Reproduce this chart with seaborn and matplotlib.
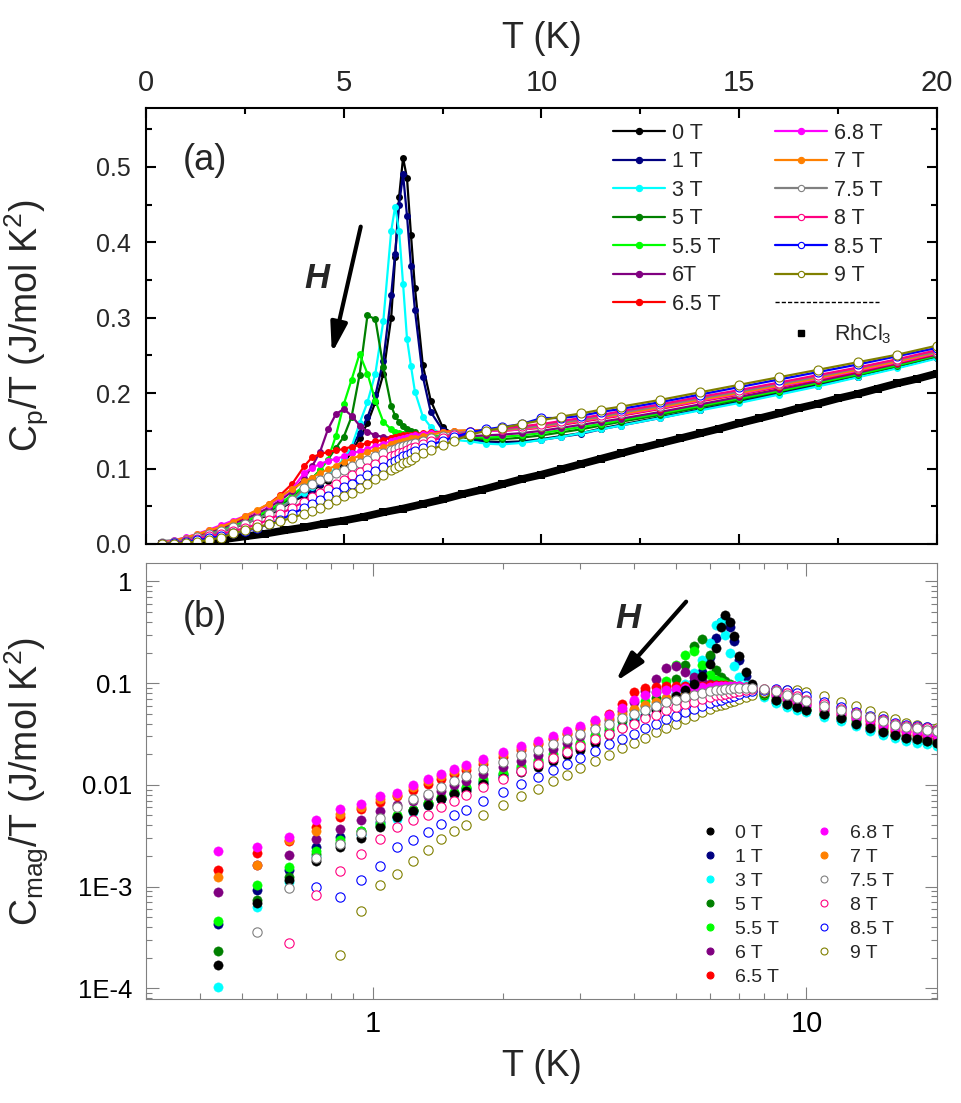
import numpy as np
import matplotlib
matplotlib.use('Agg')
import matplotlib.pyplot as plt
import seaborn as sns
from matplotlib.lines import Line2D
from matplotlib.legend_handler import HandlerLine2D
from matplotlib.ticker import MultipleLocator, FormatStrFormatter, LogLocator, NullFormatter

nan = np.nan

# ---- panel (a): Cp/T vs T ----
T_top = [0.4, 0.7, 1.0, 1.3, 1.6, 1.9, 2.2, 2.5, 2.8, 3.1, 3.4, 3.7,
         4.0, 4.2, 4.4, 4.6, 4.8, 5.0, 5.2, 5.4, 5.6, 5.8, 6.0,
         6.2, 6.3, 6.4, 6.5, 6.6, 6.7, 6.8, 7.0, 7.2, 7.5, 7.8,
         8.2, 8.6, 9.0, 9.5, 10, 10.5, 11, 11.5, 12, 13, 14, 15, 16, 17, 18, 19, 20]

cp_0T = [0.0005, 0.0023, 0.005, 0.0085, 0.0125, 0.017, 0.021, 0.027, 0.033, 0.038, 0.047, 0.056,
         0.064, 0.070, 0.078, 0.084, 0.095, 0.107, 0.122, 0.140, 0.160, 0.188, 0.225,
         0.300, 0.380, 0.460, 0.512, 0.485, 0.410, 0.340, 0.237, 0.190, 0.155, 0.145,
         0.140, 0.136, 0.135, 0.136, 0.139, 0.143, 0.147, 0.153, 0.158, 0.168, 0.178, 0.189, 0.200, 0.211, 0.222, 0.234, 0.247]
cp_1T = [0.0007, 0.0026, 0.0055, 0.009, 0.013, 0.0175, 0.022, 0.028, 0.034, 0.040, 0.048, 0.057,
         0.066, 0.072, 0.080, 0.088, 0.099, 0.112, 0.128, 0.147, 0.168, 0.197, 0.243,
         0.330, 0.385, 0.450, 0.490, 0.435, 0.368, 0.310, 0.222, 0.175, 0.151, 0.146,
         0.139, 0.135, 0.134, 0.135, 0.138, 0.142, 0.146, 0.152, 0.157, 0.167, 0.178, 0.188, 0.199, 0.210, 0.222, 0.234, 0.247]
cp_3T = [0.0004, 0.0023, 0.0052, 0.0088, 0.013, 0.0175, 0.022, 0.028, 0.034, 0.041, 0.049, 0.059,
         0.068, 0.075, 0.083, 0.091, 0.101, 0.113, 0.129, 0.160, 0.188, 0.226, 0.295,
         0.415, 0.447, 0.415, 0.345, 0.272, 0.236, 0.202, 0.169, 0.155, 0.144, 0.138,
         0.136, 0.133, 0.132, 0.134, 0.138, 0.142, 0.147, 0.152, 0.157, 0.167, 0.177, 0.187, 0.198, 0.209, 0.221, 0.233, 0.246]
cp_5T = [0.0005, 0.0025, 0.0055, 0.0092, 0.0135, 0.018, 0.023, 0.029, 0.036, 0.043, 0.052, 0.062,
         0.077, 0.087, 0.098, 0.112, 0.127, 0.142, 0.169, 0.224, 0.303, 0.298, 0.235,
         0.183, 0.170, 0.162, 0.157, 0.153, 0.150, 0.148, 0.145, 0.144, 0.143, 0.142,
         0.141, 0.139, 0.139, 0.141, 0.144, 0.148, 0.152, 0.157, 0.162, 0.171, 0.181, 0.191, 0.202, 0.213, 0.224, 0.236, 0.249]
cp_55T = [0.0006, 0.0027, 0.0057, 0.0095, 0.014, 0.019, 0.024, 0.030, 0.037, 0.045, 0.054, 0.065,
          0.077, 0.086, 0.098, 0.112, 0.143, 0.185, 0.218, 0.252, 0.226, 0.190, 0.162,
          0.152, 0.149, 0.147, 0.146, 0.145, 0.144, 0.144, 0.143, 0.143, 0.143, 0.143,
          0.142, 0.141, 0.142, 0.144, 0.147, 0.151, 0.155, 0.159, 0.164, 0.173, 0.183, 0.193, 0.203, 0.214, 0.225, 0.237, 0.250]
cp_6T = [0.0012, 0.0035, 0.0070, 0.011, 0.016, 0.021, 0.027, 0.033, 0.040, 0.048, 0.058, 0.070,
         0.087, 0.103, 0.122, 0.152, 0.172, 0.179, 0.170, 0.157, 0.149, 0.144, 0.142,
         0.141, 0.140, 0.140, 0.140, 0.140, 0.140, 0.140, 0.141, 0.141, 0.142, 0.143,
         0.143, 0.144, 0.145, 0.147, 0.150, 0.154, 0.158, 0.162, 0.166, 0.175, 0.185, 0.195, 0.205, 0.216, 0.227, 0.239, 0.251]
cp_65T = [0.0016, 0.0042, 0.0078, 0.012, 0.0175, 0.023, 0.029, 0.036, 0.044, 0.053, 0.065, 0.080,
          0.103, 0.115, 0.119, 0.122, 0.124, 0.126, 0.129, 0.131, 0.134, 0.136, 0.138,
          0.141, 0.142, 0.143, 0.144, 0.145, 0.145, 0.146, 0.147, 0.148, 0.149, 0.150,
          0.150, 0.150, 0.150, 0.152, 0.154, 0.158, 0.162, 0.166, 0.170, 0.179, 0.189, 0.198, 0.208, 0.218, 0.229, 0.240, 0.252]
cp_68T = [0.0024, 0.0048, 0.0088, 0.0135, 0.019, 0.025, 0.031, 0.037, 0.044, 0.052, 0.061, 0.073,
          0.094, 0.101, 0.106, 0.110, 0.113, 0.116, 0.120, 0.123, 0.126, 0.130, 0.133,
          0.136, 0.138, 0.139, 0.141, 0.142, 0.143, 0.144, 0.146, 0.147, 0.148, 0.149,
          0.150, 0.150, 0.150, 0.152, 0.155, 0.159, 0.163, 0.167, 0.171, 0.180, 0.190, 0.199, 0.209, 0.219, 0.230, 0.241, 0.253]
cp_7T = [0.0015, 0.0045, 0.0085, 0.013, 0.018, 0.023, 0.029, 0.037, 0.045, 0.053, 0.063, 0.073,
         0.083, 0.088, 0.094, 0.099, 0.104, 0.109, 0.113, 0.117, 0.122, 0.125, 0.129,
         0.132, 0.134, 0.135, 0.137, 0.138, 0.140, 0.141, 0.143, 0.145, 0.148, 0.150,
         0.151, 0.151, 0.151, 0.153, 0.156, 0.160, 0.164, 0.168, 0.172, 0.181, 0.191, 0.200, 0.210, 0.220, 0.231, 0.242, 0.254]
cp_75T = [0.0008, 0.0025, 0.0055, 0.009, 0.013, 0.017, 0.022, 0.027, 0.033, 0.040, 0.048, 0.058,
          0.074, 0.080, 0.085, 0.089, 0.094, 0.098, 0.103, 0.107, 0.112, 0.116, 0.120,
          0.124, 0.126, 0.128, 0.130, 0.131, 0.133, 0.134, 0.137, 0.140, 0.143, 0.146,
          0.149, 0.151, 0.152, 0.154, 0.157, 0.161, 0.165, 0.169, 0.174, 0.183, 0.193, 0.202, 0.212, 0.222, 0.233, 0.244, 0.255]
cp_8T = [0.0004, 0.0012, 0.0038, 0.0068, 0.010, 0.0135, 0.017, 0.021, 0.026, 0.032, 0.040, 0.048,
         0.056, 0.062, 0.067, 0.073, 0.080, 0.085, 0.091, 0.096, 0.101, 0.106, 0.111,
         0.116, 0.118, 0.120, 0.122, 0.125, 0.127, 0.129, 0.133, 0.137, 0.141, 0.144,
         0.148, 0.151, 0.153, 0.156, 0.159, 0.163, 0.167, 0.171, 0.176, 0.185, 0.195, 0.204, 0.214, 0.224, 0.234, 0.245, 0.257]
cp_85T = [0.0003, 0.0009, 0.0025, 0.0048, 0.0075, 0.0105, 0.014, 0.017, 0.021, 0.026, 0.032, 0.040,
          0.048, 0.053, 0.058, 0.063, 0.069, 0.075, 0.080, 0.086, 0.091, 0.097, 0.102,
          0.108, 0.110, 0.113, 0.116, 0.118, 0.120, 0.123, 0.127, 0.131, 0.137, 0.142,
          0.148, 0.152, 0.155, 0.159, 0.167, 0.167, 0.170, 0.175, 0.179, 0.188, 0.198, 0.208, 0.218, 0.228, 0.238, 0.249, 0.260]
cp_9T = [0.0002, 0.0006, 0.0015, 0.0032, 0.0055, 0.0085, 0.014, 0.018, 0.022, 0.026, 0.030, 0.035,
         0.040, 0.044, 0.048, 0.053, 0.058, 0.063, 0.068, 0.074, 0.080, 0.086, 0.092,
         0.098, 0.101, 0.104, 0.107, 0.109, 0.112, 0.115, 0.120, 0.125, 0.131, 0.137,
         0.145, 0.150, 0.154, 0.159, 0.164, 0.169, 0.173, 0.178, 0.182, 0.191, 0.201, 0.211, 0.221, 0.231, 0.241, 0.251, 0.263]

# phonon reference
T_rh = [0.4, 1.0, 1.5, 2.0, 2.5, 3.0, 3.5, 4.0, 4.5, 5.0, 5.5, 6.0, 6.5, 7.0, 7.5, 8.0, 8.5, 9.0, 9.5, 10.0,
        10.5, 11.0, 11.5, 12.0, 12.5, 13.0, 13.5, 14.0, 14.5, 15.0, 15.5, 16.0, 16.5, 17.0, 17.5, 18.0, 18.5, 19.0, 19.5, 20.0]
cp_rh = [0.0003, 0.0015, 0.0035, 0.0065, 0.010, 0.0135, 0.018, 0.022, 0.027, 0.031, 0.036, 0.042, 0.047, 0.053, 0.059,
         0.066, 0.072, 0.079, 0.086, 0.092, 0.099, 0.106, 0.113, 0.120, 0.127, 0.1335, 0.140, 0.1465, 0.153, 0.160,
         0.1665, 0.173, 0.180, 0.186, 0.193, 0.199, 0.206, 0.213, 0.219, 0.226]

# ---- panel (b): Cmag/T vs T ----
T_bot = [0.44, 0.54, 0.64, 0.74, 0.84, 0.94, 1.04, 1.14, 1.24, 1.34, 1.44, 1.54, 1.64,
         1.8, 2.0, 2.2, 2.4, 2.6, 2.8, 3.0,
         3.25, 3.5, 3.75, 4.0, 4.25, 4.5, 4.75, 5.0,
         5.25, 5.5, 5.75, 6.0, 6.2, 6.35, 6.5, 6.65, 6.8, 7.0,
         7.25, 7.5, 8.0, 8.5, 9.0, 9.5, 10,
         11, 12, 13, 14, 15, 16, 17, 18, 19, 20]

cm_0T = [1.70e-4, 6.85e-4, 1.16e-3, 1.80e-3, 2.44e-3, 3.01e-3, 3.84e-3, 4.8e-3, 5.5e-3, 6.4e-3, 7.2e-3, 8.15e-3, 8.8e-3,
         0.0102, 0.0118, 0.0133, 0.0150, 0.0172, 0.0195, 0.0220,
         0.026, 0.031, 0.036, 0.041, 0.047, 0.055, 0.065, 0.075,
         0.085, 0.098, 0.118, 0.155, 0.22, 0.36, 0.47, 0.40, 0.29, 0.185,
         0.128, 0.098, 0.080, 0.068, 0.062, 0.058, 0.055,
         0.050, 0.045, 0.040, 0.036, 0.033, 0.031, 0.029, 0.028, 0.027, 0.026]
cm_1T = [4.3e-4, 9.3e-4, 1.46e-3, 2.44e-3, 3.1e-3, 3.3e-3, 4.3e-3, 4.8e-3, 5.6e-3, 6.5e-3, 7.3e-3, 8.3e-3, 9.2e-3,
         0.0105, 0.0122, 0.0138, 0.0156, 0.0178, 0.020, 0.023,
         0.027, 0.032, 0.037, 0.043, 0.049, 0.057, 0.067, 0.078,
         0.090, 0.105, 0.128, 0.18, 0.28, 0.40, 0.44, 0.36, 0.26, 0.17,
         0.118, 0.093, 0.077, 0.066, 0.060, 0.057, 0.054,
         0.049, 0.043, 0.039, 0.035, 0.032, 0.030, 0.028, 0.027, 0.026, 0.025]
cm_3T = [1.04e-4, 6.27e-4, 1.12e-3, 2.02e-3, 2.63e-3, 3.2e-3, 4.1e-3, 4.6e-3, 5.4e-3, 6.4e-3, 7.3e-3, 8.2e-3, 9.1e-3,
         0.0106, 0.0124, 0.0141, 0.016, 0.0183, 0.021, 0.024,
         0.028, 0.033, 0.039, 0.046, 0.053, 0.062, 0.072, 0.083,
         0.098, 0.125, 0.17, 0.25, 0.37, 0.40, 0.30, 0.20, 0.148, 0.115,
         0.096, 0.085, 0.073, 0.064, 0.058, 0.055, 0.052,
         0.047, 0.042, 0.038, 0.034, 0.031, 0.029, 0.027, 0.026, 0.025, 0.024]
cm_5T = [2.31e-4, 7.3e-4, 1.24e-3, 2.1e-3, 2.7e-3, 3.56e-3, 3.98e-3, 4.9e-3, 5.6e-3, 6.6e-3, 7.4e-3, 8.4e-3, 9.4e-3,
         0.011, 0.0128, 0.0147, 0.0168, 0.019, 0.022, 0.025,
         0.030, 0.035, 0.042, 0.050, 0.060, 0.072, 0.088, 0.110,
         0.15, 0.23, 0.27, 0.19, 0.135, 0.115, 0.105, 0.098, 0.093, 0.090,
         0.087, 0.084, 0.077, 0.069, 0.063, 0.058, 0.055,
         0.050, 0.045, 0.041, 0.037, 0.034, 0.031, 0.029, 0.028, 0.027, 0.026]
cm_55T = [4.57e-4, 1.04e-3, 1.55e-3, 2.26e-3, 2.85e-3, 3.56e-3, 4.1e-3, 5.0e-3, 5.7e-3, 6.7e-3, 7.6e-3, 8.6e-3, 9.6e-3,
          0.0113, 0.0132, 0.0152, 0.0175, 0.020, 0.023, 0.026,
          0.031, 0.037, 0.045, 0.055, 0.067, 0.082, 0.105, 0.150,
          0.19, 0.205, 0.15, 0.12, 0.108, 0.102, 0.098, 0.095, 0.093, 0.091,
          0.088, 0.085, 0.078, 0.071, 0.065, 0.060, 0.057,
          0.051, 0.046, 0.042, 0.038, 0.035, 0.032, 0.030, 0.029, 0.028, 0.027]
cm_6T = [8.8e-4, 1.62e-3, 2.06e-3, 2.94e-3, 3.69e-3, 4.53e-3, 5.5e-3, 6.27e-3, 7.0e-3, 7.8e-3, 8.8e-3, 1.0e-2, 0.011,
         0.0128, 0.0150, 0.0172, 0.0197, 0.0225, 0.026, 0.030,
         0.036, 0.043, 0.053, 0.066, 0.084, 0.110, 0.140, 0.147,
         0.130, 0.114, 0.104, 0.098, 0.095, 0.094, 0.093, 0.092, 0.091, 0.090,
         0.089, 0.087, 0.081, 0.074, 0.068, 0.063, 0.059,
         0.053, 0.048, 0.044, 0.040, 0.036, 0.033, 0.031, 0.030, 0.029, 0.028]
cm_65T = [1.47e-3, 2.14e-3, 2.83e-3, 3.84e-3, 4.81e-3, 5.8e-3, 6.76e-3, 7.8e-3, 9.0e-3, 0.0102, 0.0115, 0.0128, 0.0140,
          0.0162, 0.0190, 0.0220, 0.0250, 0.0285, 0.032, 0.036,
          0.042, 0.050, 0.062, 0.082, 0.090, 0.092, 0.093, 0.094,
          0.094, 0.094, 0.094, 0.095, 0.095, 0.095, 0.095, 0.094, 0.094, 0.093,
          0.092, 0.090, 0.085, 0.078, 0.071, 0.066, 0.062,
          0.056, 0.050, 0.046, 0.042, 0.038, 0.035, 0.033, 0.032, 0.031, 0.030]
cm_68T = [2.23e-3, 2.44e-3, 3.05e-3, 4.53e-3, 5.81e-3, 6.5e-3, 7.74e-3, 8.28e-3, 1.0e-2, 0.0113, 0.0128, 0.0144, 0.0157,
          0.0180, 0.0210, 0.0240, 0.0272, 0.0305, 0.034, 0.038,
          0.043, 0.049, 0.057, 0.068, 0.076, 0.081, 0.085, 0.087,
          0.089, 0.090, 0.091, 0.092, 0.093, 0.093, 0.093, 0.093, 0.093, 0.093,
          0.092, 0.090, 0.086, 0.079, 0.072, 0.067, 0.063,
          0.057, 0.051, 0.047, 0.043, 0.039, 0.036, 0.034, 0.033, 0.032, 0.031]
cm_7T = [1.24e-3, 1.62e-3, 2.9e-3, 3.56e-3, 5.2e-3, 6.0e-3, 7.3e-3, 8.0e-3, 9.5e-3, 0.0108, 0.0122, 0.0136, 0.0150,
         0.0172, 0.0200, 0.0228, 0.0258, 0.029, 0.0322, 0.0355,
         0.040, 0.045, 0.050, 0.056, 0.061, 0.066, 0.071, 0.075,
         0.079, 0.082, 0.085, 0.087, 0.088, 0.089, 0.090, 0.090, 0.091, 0.091,
         0.091, 0.090, 0.087, 0.080, 0.073, 0.068, 0.064,
         0.058, 0.052, 0.048, 0.044, 0.040, 0.037, 0.035, 0.034, 0.033, 0.032]
cm_75T = [nan, 3.55e-4, 9.6e-4, 1.9e-3, 2.63e-3, 3.4e-3, 4.7e-3, 6.0e-3, 7.2e-3, 8.2e-3, 9.5e-3, 0.011, 0.0122,
          0.0142, 0.0168, 0.0195, 0.0222, 0.0252, 0.0282, 0.0315,
          0.0355, 0.040, 0.045, 0.050, 0.055, 0.060, 0.065, 0.069,
          0.073, 0.077, 0.080, 0.083, 0.085, 0.086, 0.087, 0.088, 0.089, 0.090,
          0.090, 0.090, 0.088, 0.083, 0.077, 0.071, 0.067,
          0.060, 0.054, 0.050, 0.046, 0.042, 0.039, 0.037, 0.036, 0.035, 0.034]
cm_8T = [nan, nan, 2.77e-4, 8.3e-4, 1.42e-3, 2.07e-3, 2.94e-3, 3.84e-3, 4.5e-3, 5.07e-3, 6.0e-3, 7.0e-3, 7.9e-3,
         9.5e-3, 0.0115, 0.0137, 0.0160, 0.0185, 0.0212, 0.024,
         0.028, 0.032, 0.036, 0.040, 0.045, 0.049, 0.054, 0.058,
         0.062, 0.066, 0.070, 0.073, 0.076, 0.077, 0.079, 0.080, 0.082, 0.084,
         0.086, 0.087, 0.088, 0.086, 0.080, 0.074, 0.069,
         0.062, 0.056, 0.051, 0.047, 0.043, 0.040, 0.038, 0.037, 0.036, 0.035]
cm_85T = [nan, nan, nan, 9.8e-4, 7.85e-4, 1.15e-3, 1.61e-3, 2.44e-3, 2.88e-3, 3.42e-3, 4.13e-3, 5.0e-3, 5.6e-3,
          6.9e-3, 8.5e-3, 0.0102, 0.0120, 0.0140, 0.0162, 0.0185,
          0.0215, 0.025, 0.0285, 0.032, 0.036, 0.040, 0.044, 0.048,
          0.052, 0.056, 0.060, 0.064, 0.067, 0.069, 0.071, 0.073, 0.075, 0.078,
          0.081, 0.083, 0.086, 0.087, 0.085, 0.080, 0.075,
          0.065, 0.058, 0.052, 0.048, 0.044, 0.041, 0.039, 0.038, 0.037, 0.035]
cm_9T = [nan, nan, nan, nan, 2.14e-4, 5.7e-4, 1.04e-3, 1.33e-3, 1.77e-3, 2.31e-3, 2.94e-3, 3.56e-3, 4.05e-3,
         5.0e-3, 6.3e-3, 7.7e-3, 9.2e-3, 0.0108, 0.0126, 0.0145,
         0.0170, 0.0198, 0.0228, 0.026, 0.029, 0.033, 0.036, 0.040,
         0.044, 0.048, 0.052, 0.056, 0.059, 0.061, 0.063, 0.065, 0.067, 0.070,
         0.073, 0.076, 0.081, 0.085, 0.086, 0.085, 0.082,
         0.074, 0.066, 0.059, 0.053, 0.048, 0.044, 0.041, 0.039, 0.037, 0.036]

labels_top = ['0 T', '1 T', '3 T', '5 T', '5.5 T', '6T', '6.5 T', '6.8 T', '7 T', '7.5 T', '8 T', '8.5 T', '9 T']
labels_bot = ['0 T', '1 T', '3 T', '5 T', '5.5 T', '6 T', '6.5 T', '6.8 T', '7 T', '7.5 T', '8 T', '8.5 T', '9 T']
colors = ['#000000', '#000080', '#00FFFF', '#008000', '#00FF00', '#800080', '#FF0000',
          '#FF00FF', '#FF8000', '#808080', '#FF0080', '#0000FF', '#808000']
is_open = [False] * 9 + [True] * 4

cp_all = [cp_0T, cp_1T, cp_3T, cp_5T, cp_55T, cp_6T, cp_65T, cp_68T, cp_7T, cp_75T, cp_8T, cp_85T, cp_9T]
cm_all = [cm_0T, cm_1T, cm_3T, cm_5T, cm_55T, cm_6T, cm_65T, cm_68T, cm_7T, cm_75T, cm_8T, cm_85T, cm_9T]

sns.set_theme(style='ticks')
plt.rcParams['font.family'] = ['Liberation Sans', 'DejaVu Sans']
plt.rcParams['mathtext.fontset'] = 'custom'
plt.rcParams['mathtext.rm'] = 'Liberation Sans'
plt.rcParams['mathtext.it'] = 'Liberation Sans:italic'

fig = plt.figure(figsize=(9.61, 11.03), dpi=100)
ax1 = fig.add_axes([0.1519, 0.5068, 0.8231, 0.3953])
ax2 = fig.add_axes([0.1519, 0.0943, 0.8231, 0.3953])


class SepHandler(HandlerLine2D):
    # dashed separator line, twice as long as a normal handle
    def create_artists(self, legend, orig_handle, xdescent, ydescent, width, height, fontsize, trans):
        y = (height - ydescent) / 2.0
        ln = Line2D([-xdescent, -xdescent + 2.0 * width], [y, y], color='black', lw=1.0, linestyle=(0, (3, 1.5)))
        ln.set_transform(trans)
        return [ln]


# ---------------- panel (a) ----------------
sns.lineplot(x=T_rh, y=cp_rh, ax=ax1, color='black', lw=5.5, marker='s', markersize=6,
             markeredgecolor='black', markeredgewidth=0, estimator=None, sort=False, legend=False)

for vals, col, opn in zip(cp_all, colors, is_open):
    sns.lineplot(x=T_top, y=vals, ax=ax1, color=col, lw=1.6, marker='o',
                 markersize=6.5 if opn else 5,
                 markerfacecolor='white' if opn else col, markeredgecolor=col,
                 markeredgewidth=0.8 if opn else 0, estimator=None, sort=False, legend=False)

ax1.set_xlim(0, 20)
ax1.set_ylim(0, 0.578)
ax1.xaxis.set_major_locator(MultipleLocator(5))
ax1.xaxis.set_minor_locator(MultipleLocator(2.5))
ax1.yaxis.set_major_locator(MultipleLocator(0.1))
ax1.yaxis.set_minor_locator(MultipleLocator(0.05))
ax1.yaxis.set_major_formatter(FormatStrFormatter('%.1f'))
ax1.tick_params(which='both', direction='in', top=True, right=True, color='black', width=1.5)
ax1.tick_params(which='major', length=7)
ax1.tick_params(which='minor', length=4)
ax1.tick_params(axis='x', labeltop=True, labelbottom=False, pad=8)
ax1.tick_params(axis='y', labelsize=18, pad=11)
ax1.set_xticks([0, 5, 10, 15, 20])
ax1.set_xticklabels(['0', '5', '10', '15', '20'], fontsize=21)
for s in ax1.spines.values():
    s.set_linewidth(1.5)
    s.set_color('black')
ax1.xaxis.set_label_position('top')
ax1.set_xlabel('T (K)', fontsize=26, labelpad=15)
ax1.set_ylabel(r'C$_\mathregular{p}$/T (J/mol K$^\mathregular{2}$)', fontsize=27)
ax1.yaxis.set_label_coords(-0.12, 0.5)

ax1.text(0.0746, 0.88, '(a)', transform=ax1.transAxes, fontsize=26, ha='center', va='center')
ax1.annotate('', xy=(4.70, 0.2527), xytext=(5.43, 0.4207),
             arrowprops=dict(arrowstyle='-|>,head_width=0.25,head_length=0.9', lw=3, color='black',
                             shrinkA=0, shrinkB=0, mutation_scale=20))
ax1.text(4.32, 0.3526, 'H', fontsize=25, fontweight='bold', fontstyle='italic', ha='center', va='center')

h_top = []
for lab, col, opn in zip(labels_top, colors, is_open):
    h_top.append(Line2D([], [], color=col, lw=1.6, marker='o', markersize=4.5,
                        markerfacecolor='white' if opn else col, markeredgecolor=col,
                        markeredgewidth=0.8, label=lab))
blank = Line2D([], [], linestyle='none', label=' ')
sep = Line2D([], [], color='black', lw=1.0, linestyle='--', label=' ')
rh = Line2D([], [], color='black', linestyle='none', marker='s', markersize=4.5, label=r'RhCl$_\mathregular{3}$')
handles = h_top[:7] + [blank] + h_top[7:] + [sep, rh]
ax1.legend(handles=handles, handler_map={sep: SepHandler()}, ncol=2, loc='upper left',
           bbox_to_anchor=(0.5904, 0.9663), frameon=False, fontsize=15.5, handlelength=2.42,
           handletextpad=0.33, columnspacing=2.5, labelspacing=0.35, borderpad=0, borderaxespad=0)

# ---------------- panel (b) ----------------
order = [1, 2, 3, 4, 5, 6, 8, 7, 0, 12, 11, 10, 9]
for i in order:
    col = colors[i]
    if is_open[i]:
        sns.scatterplot(x=T_bot, y=cm_all[i], ax=ax2, color='white', edgecolor=col, linewidth=0.8,
                        s=45, marker='o', legend=False)
    else:
        sns.scatterplot(x=T_bot, y=cm_all[i], ax=ax2, color=col, edgecolor=col, linewidth=0.3,
                        s=45, marker='o', legend=False)

ax2.set_xscale('log')
ax2.set_yscale('log')
ax2.set_xlim(0.3, 20)
ax2.set_ylim(7.85e-5, 1.52)
ax2.xaxis.set_minor_locator(LogLocator(base=10, subs=np.arange(2, 10), numticks=20))
ax2.xaxis.set_minor_formatter(NullFormatter())
ax2.set_xticks([1, 10])
ax2.set_xticklabels(['1', '10'], fontsize=21)
ax2.yaxis.set_minor_locator(LogLocator(base=10, subs=np.arange(2, 10), numticks=20))
ax2.yaxis.set_minor_formatter(NullFormatter())
ax2.set_yticks([1e-4, 1e-3, 1e-2, 1e-1, 1])
ax2.set_yticklabels(['1E-4', '1E-3', '0.01', '0.1', '1'], fontsize=18.5)
ax2.tick_params(which='both', direction='in', top=True, right=True, color='#808080', width=0.8, labelcolor='black')
ax2.tick_params(which='major', length=9)
ax2.tick_params(which='minor', length=4.5)
ax2.tick_params(axis='x', pad=8)
ax2.tick_params(axis='y', pad=10)
for s in ax2.spines.values():
    s.set_linewidth(0.8)
    s.set_color('#808080')
ax2.set_xlabel('T (K)', fontsize=26, labelpad=8)
ax2.set_ylabel(r'C$_\mathregular{mag}$/T (J/mol K$^\mathregular{2}$)', fontsize=27)
ax2.yaxis.set_label_coords(-0.12, 0.5)

ax2.text(0.0746, 0.876, '(b)', transform=ax2.transAxes, fontsize=26, ha='center', va='center')
ax2.annotate('', xy=(3.63, 0.1035), xytext=(5.28, 0.633),
             arrowprops=dict(arrowstyle='-|>,head_width=0.25,head_length=0.9', lw=3, color='black',
                             shrinkA=0, shrinkB=0, mutation_scale=20))
ax2.text(3.87, 0.428, 'H', fontsize=25, fontweight='bold', fontstyle='italic', ha='center', va='center')

h_bot = []
for lab, col, opn in zip(labels_bot, colors, is_open):
    h_bot.append(Line2D([], [], linestyle='none', marker='o', markersize=5,
                        markerfacecolor='white' if opn else col, markeredgecolor=col,
                        markeredgewidth=0.8, label=lab))
ax2.legend(handles=h_bot, ncol=2, loc='upper left', bbox_to_anchor=(0.7008, 0.401), frameon=False,
           fontsize=14, handlelength=1.0, handletextpad=0.79, columnspacing=1.83, labelspacing=0.33,
           borderpad=0, borderaxespad=0)

fig.savefig('out.png', dpi=100)
